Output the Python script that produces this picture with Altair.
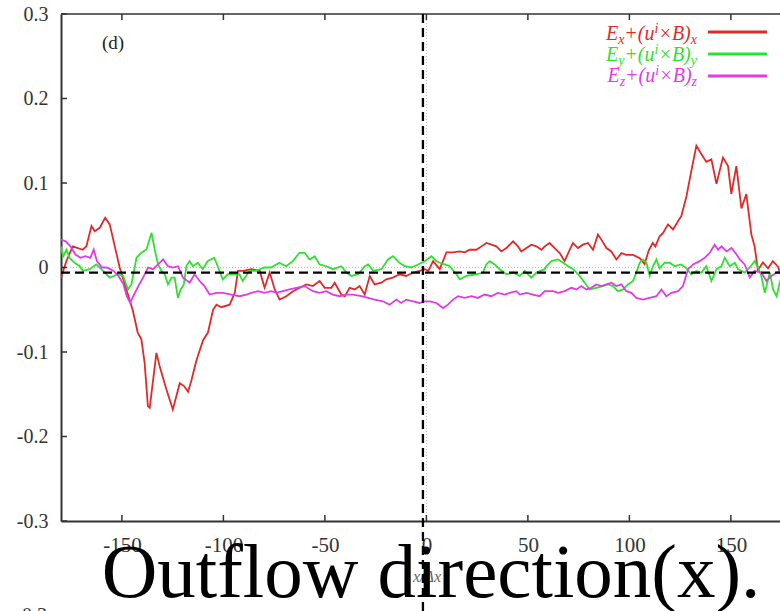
import altair as alt
import pandas as pd

# ---------------- data ----------------
series_names = ["Ex", "Ey", "Ez"]
series_colors = ["#e02a2a", "#30e030", "#de3ce6"]

red_x = [-180, -177.3, -174.2, -169.3, -167.5, -165, -163.4, -160.9, -158.2, -156,
         -153.5, -151.1, -147.8, -144.7, -142.2, -140.4, -138.8, -137.2, -136.3, -133,
         -131.4, -128.1, -124.9, -121.5, -119.5, -117.4, -115.8, -113.3, -110, -107.6,
         -105.1, -103.4, -101, -96.9, -94.4, -92.8, -90.3, -86.2, -82.1, -79.7,
         -77.2, -74.7, -72.3, -69, -65.7, -62.4, -59.1, -55.9, -52.6, -50.1,
         -46.8, -45.2, -41.9, -40.2, -37.8, -35.3, -32.9, -30.4, -27.9, -25.5,
         -22.2, -19.7, -16.5, -13.2, -9.9, -6.6, -3.3, -0.8, 1.0, 3.3,
         6.6, 9.9, 13.1, 16.4, 18.9, 21.3, 24.6, 27.1, 29.6, 32,
         34.5, 36.9, 39.4, 42.7, 45.1, 46.8, 49.3, 51.7, 54.2, 56.7,
         58.3, 60.7, 63.2, 65.7, 68.1, 70.6, 72.2, 74.7, 77.1, 79.6,
         82.1, 84.5, 86.2, 88.7, 91.1, 93.6, 96.1, 98.5, 101.8, 105.1,
         107.5, 109.5, 111.5, 112.8, 114.9, 116.6, 119, 121.5, 123.5, 125.6,
         128.1, 130.5, 133, 135.5, 137.9, 140.4, 142.9, 146.1, 148.6, 150.2,
         152.7, 155.2, 157.6, 160.1, 161.7, 163.3, 165.8, 168.3, 170.7, 173.2,
         174.5]
red_y = [-0.012, 0.008, 0.025, 0.021, 0.025, 0.049, 0.043, 0.047, 0.059, 0.051,
         0.025, 0.0, -0.026, -0.050, -0.077, -0.085, -0.113, -0.164, -0.166, -0.101,
         -0.117, -0.144, -0.168, -0.137, -0.140, -0.147, -0.134, -0.110, -0.086, -0.077,
         -0.050, -0.044, -0.047, -0.044, -0.030, -0.004, -0.004, -0.002, -0.004, -0.024,
         -0.006, -0.026, -0.038, -0.034, -0.028, -0.024, -0.020, -0.022, -0.016, -0.024,
         -0.024, -0.018, -0.032, -0.034, -0.024, -0.026, -0.022, -0.032, -0.010, -0.020,
         -0.018, -0.014, -0.012, -0.008, -0.010, -0.006, -0.004, -0.002, -0.004, 0.0075,
         -0.002, 0.018, 0.018, 0.019, 0.018, 0.021, 0.021, 0.025, 0.029, 0.027,
         0.025, 0.019, 0.023, 0.031, 0.025, 0.019, 0.023, 0.027, 0.025, 0.021,
         0.025, 0.029, 0.023, 0.017, 0.0075, 0.021, 0.029, 0.023, 0.027, 0.029,
         0.021, 0.039, 0.033, 0.023, 0.019, 0.0095, 0.017, 0.015, 0.015, 0.011,
         0.004, 0.020, 0.029, 0.025, 0.037, 0.041, 0.051, 0.045, 0.053, 0.061,
         0.084, 0.114, 0.144, 0.134, 0.125, 0.128, 0.099, 0.130, 0.120, 0.087,
         0.120, 0.070, 0.087, 0.039, 0.025, -0.003, 0.006, -0.001, 0.0075, 0.001,
         -0.008]

green_x = [-180, -179, -177.3, -175.7, -173.3, -170.8, -169.2, -165.9, -162.6, -159.3,
           -156, -151.9, -149.4, -147, -145.3, -142.8, -140.4, -137.9, -135.4, -133.8,
           -132.2, -130.5, -128.9, -127.3, -125.6, -124, -122.4, -121, -119.5, -118.2,
           -116.6, -115, -112.6, -110.2, -107.8, -104.5, -102.8, -100.3, -97.8, -95.4,
           -92.1, -90.5, -87.2, -83.9, -79.8, -76.5, -72.4, -69.1, -65.8, -62.5,
           -59.9, -57.5, -55, -52.6, -49.3, -46, -41.9, -39.4, -36.9, -33.6,
           -30.3, -28.7, -26.2, -22.1, -18.9, -16.5, -13.2, -10.7, -7.4, -4.1,
           -0.8, 2.5, 4.9, 6.6, 9, 11.5, 14.8, 16.4, 19.7, 24.6,
           27.9, 29.5, 31.2, 33.6, 36.1, 39.4, 42.7, 46, 48.4, 51.7,
           54.2, 58.3, 59.1, 61.6, 64.9, 67.4, 69.8, 72.3, 75.5, 78,
           80.4, 83.7, 87, 89.5, 91.9, 94.4, 96.9, 99.3, 101.8, 103.4,
           105.1, 106.7, 108.4, 110, 111.6, 113.3, 114.9, 117.4, 119.9, 122.3,
           125.6, 128.1, 130.5, 133, 135.5, 137.9, 140.4, 142.9, 145.3, 147,
           149.4, 151.9, 153.5, 156.8, 159.3, 161.7, 163.4, 165, 166.7, 169.2,
           170.8, 172.5, 174.5]
green_y = [0.025, 0.013, 0.021, 0.011, 0.0056, 0.0015, -0.004, -0.002, 0.0036, -0.004,
           -0.012, -0.008, -0.010, -0.026, -0.020, 0.0115, 0.0174, 0.0213, 0.041, 0.021,
           0.0036, -0.004, -0.008, -0.020, -0.012, -0.012, -0.036, -0.026, -0.020, 0.002,
           0.0075, 0.0015, 0.0056, -0.002, 0.0075, 0.0115, 0.0015, -0.014, -0.008, -0.008,
           -0.008, -0.016, -0.004, -0.004, 0.0, 0.0, 0.0056, 0.0015, 0.0075, 0.0174,
           0.0174, 0.0095, 0.0134, 0.0036, 0.0015, -0.002, 0.0015, -0.006, -0.010, -0.008,
           0.0015, 0.0036, -0.004, -0.002, 0.0095, 0.0134, 0.0056, 0.0015, 0.0, 0.0036,
           0.0075, 0.0134, 0.0075, 0.0056, 0.0036, 0.0015, -0.008, -0.014, -0.010, -0.008,
           -0.006, 0.0036, 0.0075, 0.0036, -0.002, -0.008, -0.006, -0.010, -0.004, -0.012,
           -0.006, -0.002, 0.0015, 0.0075, 0.0095, 0.0056, 0.0015, -0.002, -0.010, -0.018,
           -0.026, -0.024, -0.022, -0.020, -0.022, -0.028, -0.026, -0.020, -0.016, -0.006,
           0.0056, 0.0095, 0.0056, -0.010, 0.0015, 0.0095, -0.001, 0.0056, 0.0056, 0.0015,
           0.0036, -0.001, -0.008, -0.004, -0.006, 0.0015, -0.016, -0.002, 0.0015, 0.0115,
           0.0015, 0.0056, -0.002, -0.006, 0.0, 0.0075, 0.0, -0.010, -0.030, -0.006,
           -0.026, -0.034, -0.014]

mag_x = [-180, -177.7, -175.3, -172.9, -170.4, -168, -165.5, -163.9, -162.3, -159.8,
         -157.4, -154.1, -151.7, -149.2, -147.6, -145.9, -144.4, -141.9, -139.6, -137.1,
         -134.7, -132.2, -129.7, -127.3, -124.8, -122.4, -119.9, -116.6, -114.2, -111.7,
         -109.3, -106.8, -103.5, -100.2, -96.1, -92, -88.7, -86.2, -82.9, -79.7,
         -76.4, -73.9, -70.7, -67.4, -64.1, -60, -55.9, -52.6, -49.4, -46.1,
         -42.7, -39.4, -36.2, -32, -28.7, -25.5, -21.4, -18.1, -14.8, -12.4,
         -9.9, -6.6, -3.3, -0.8, 1.6, 4.9, 8.2, 10.6, 13.1, 15.6,
         18.9, 22.2, 25.4, 28.7, 32, 35.2, 38.6, 41, 44.3, 46,
         49.3, 52.5, 55.8, 58.3, 62.4, 64.9, 68.1, 71.4, 73.9, 76.3,
         78.8, 81.2, 83.7, 86.2, 88.7, 91.1, 93.6, 96.1, 98.5, 101,
         103.4, 106.7, 110, 113.3, 115.8, 118.2, 120.7, 124, 126.4, 128.9,
         131.4, 134.6, 137.1, 139.6, 142, 143.7, 145.4, 147.8, 150.3, 152.8,
         154.4, 156.8, 159.3, 161.7, 165, 167.5, 170, 172.5, 174.5]
mag_y = [0.033, 0.031, 0.025, 0.0154, 0.0115, 0.0134, 0.0115, 0.0213, 0.0075, 0.0,
         0.0, -0.004, -0.010, -0.020, -0.034, -0.042, -0.034, -0.022, -0.012, 0.0,
         -0.002, 0.0036, 0.0095, 0.0015, 0.0, 0.0015, -0.012, -0.018, -0.008, -0.016,
         -0.022, -0.032, -0.030, -0.030, -0.032, -0.034, -0.032, -0.030, -0.028, -0.030,
         -0.028, -0.030, -0.028, -0.026, -0.024, -0.022, -0.028, -0.030, -0.028, -0.032,
         -0.034, -0.032, -0.032, -0.034, -0.036, -0.038, -0.040, -0.044, -0.038, -0.042,
         -0.038, -0.040, -0.042, -0.040, -0.040, -0.042, -0.048, -0.044, -0.038, -0.034,
         -0.036, -0.034, -0.036, -0.032, -0.034, -0.030, -0.032, -0.030, -0.028, -0.032,
         -0.030, -0.032, -0.034, -0.028, -0.028, -0.030, -0.028, -0.024, -0.026, -0.022,
         -0.026, -0.024, -0.020, -0.022, -0.020, -0.018, -0.022, -0.020, -0.028, -0.030,
         -0.036, -0.038, -0.036, -0.034, -0.026, -0.034, -0.030, -0.028, -0.022, -0.002,
         0.0036, 0.0075, 0.0115, 0.0174, 0.027, 0.021, 0.025, 0.019, 0.023, 0.0154,
         0.0095, 0.0036, -0.012, -0.004, -0.006, -0.016, -0.010, -0.006, -0.004]

x_ticks = [-150, -100, -50, 0, 50, 100, 150]
y_ticks = [-0.3, -0.2, -0.1, 0, 0.1, 0.2, 0.3]
x_domain = [-180, 174.2]
y_domain = [-0.3, 0.3]
zero_line = [0]
dashed_h = [-0.006]
dashed_v = [-1.7]

legend_letters = ["x", "y", "z"]
title_text = "Outflow direction(x)."
axis_title_text = "x/Δx"
panel_label = "(d)"
next_panel_label = "0.3"

# ---------------- build ----------------
frames = []
for name, xs, ys in zip(series_names, [red_x, green_x, mag_x], [red_y, green_y, mag_y]):
    assert len(xs) == len(ys), (name, len(xs), len(ys))
    frames.append(pd.DataFrame({"x": xs, "y": ys, "series": name}))
df = pd.concat(frames, ignore_index=True)
df["order"] = range(len(df))

W, H = 719, 507
FONT = "Liberation Serif"
AX = "#333333"

xsc = alt.Scale(domain=x_domain, nice=False, zero=False)
ysc = alt.Scale(domain=y_domain, nice=False, zero=False)

x_axis = alt.Axis(values=x_ticks, labelFont=FONT, labelFontSize=21, labelColor=AX,
                  ticks=False, grid=False, domainColor=AX, domainWidth=2,
                  labelPadding=13, title=None, labelExpr="'' + datum.value")
y_axis = alt.Axis(values=y_ticks, labelFont=FONT, labelFontSize=20, labelColor=AX,
                  ticks=False, grid=False, domainColor=AX, domainWidth=2,
                  labelPadding=13, title=None, labelExpr="'' + datum.value")

color_scale = alt.Scale(domain=series_names, range=series_colors)

lines = alt.Chart(df).mark_line(strokeWidth=1.8, clip=True).encode(
    x=alt.X("x:Q", scale=xsc, axis=x_axis),
    y=alt.Y("y:Q", scale=ysc, axis=y_axis),
    color=alt.Color("series:N", scale=color_scale, legend=None),
    order=alt.Order("order:Q"),
)

zero_h = alt.Chart(pd.DataFrame({"y": zero_line})).mark_rule(
    color="#bbbbbb", strokeWidth=1, strokeDash=[1, 2]).encode(
    y=alt.Y("y:Q", scale=ysc), x=alt.value(0), x2=alt.value(W))
zero_v = alt.Chart(pd.DataFrame({"x": zero_line})).mark_rule(
    color="#bbbbbb", strokeWidth=1, strokeDash=[1, 2]).encode(
    x=alt.X("x:Q", scale=xsc), y=alt.value(0), y2=alt.value(H))

dash_h = alt.Chart(pd.DataFrame({"y": dashed_h})).mark_rule(
    color="black", strokeWidth=2.3, strokeDash=[9, 5]).encode(
    y=alt.Y("y:Q", scale=ysc), x=alt.value(0), x2=alt.value(W))
dash_v = alt.Chart(pd.DataFrame({"x": dashed_v})).mark_rule(
    color="black", strokeWidth=2.3, strokeDash=[9, 5]).encode(
    x=alt.X("x:Q", scale=xsc), y=alt.value(0), y2=alt.value(H + 90))

xt = pd.DataFrame({"x": x_ticks})
yt = pd.DataFrame({"y": y_ticks})
tick_bottom = alt.Chart(xt).mark_rule(color=AX, strokeWidth=1.5).encode(
    x=alt.X("x:Q", scale=xsc), y=alt.value(H), y2=alt.value(H - 6))
tick_top = alt.Chart(xt).mark_rule(color=AX, strokeWidth=1.5).encode(
    x=alt.X("x:Q", scale=xsc), y=alt.value(0), y2=alt.value(6))
tick_left = alt.Chart(yt).mark_rule(color=AX, strokeWidth=1.5).encode(
    y=alt.Y("y:Q", scale=ysc), x=alt.value(0), x2=alt.value(6))
top_border = alt.Chart(pd.DataFrame({"a": [0]})).mark_rule(color=AX, strokeWidth=1.5).encode(
    y=alt.value(0), x=alt.value(0), x2=alt.value(W))


def text(txt, x, y, **kw):
    return alt.Chart(pd.DataFrame({"t": [txt]})).mark_text(**kw).encode(
        x=alt.value(x), y=alt.value(y), text="t:N")


layers = [zero_h, zero_v, lines, dash_h, tick_bottom, tick_top, tick_left, top_border]

# legend (custom: label then line sample)
ITW = {"E": 611, "x": 444, "y": 444, "z": 389, "+": 675, "(": 333, "u": 500,
       "i": 278, "×": 675, "B": 611, ")": 333}
MAIN, SUB = 20, 14
line_rows = [18, 40, 62]
base_rows = [26, 47, 68]
right_edge = 636
for letter, color, ly, by in zip(legend_letters, series_colors, line_rows, base_rows):
    segs = [("E", MAIN, 0), (letter, SUB, 4), ("+(u", MAIN, 0), ("i", SUB, -7),
            ("×B)", MAIN, 0), (letter, SUB, 4)]
    widths = [sum(ITW[c] for c in s) * sz / 1000.0 for s, sz, _ in segs]
    cx = right_edge - sum(widths)
    for (s, sz, dy), w in zip(segs, widths):
        layers.append(text(s, cx, by + dy, font=FONT, fontSize=sz, fontStyle="italic",
                           color=color, align="left", baseline="alphabetic"))
        cx += w
    layers.append(alt.Chart(pd.DataFrame({"a": [0]})).mark_rule(color=color, strokeWidth=3).encode(
        x=alt.value(647), x2=alt.value(706), y=alt.value(ly)))

layers.append(text(panel_label, 52, 29, font=FONT, fontSize=19, color="#222222",
                   align="center", baseline="middle"))
layers.append(text(axis_title_text, 366, 568, font=FONT, fontSize=16, fontStyle="italic",
                   color="#666666", align="center", baseline="alphabetic"))
layers.append(text(next_panel_label, -14, 592, font=FONT, fontSize=20, color=AX,
                   align="right", baseline="top"))
layers.append(text(title_text, 370, 583, font=FONT, fontSize=77, color="black",
                   align="center", baseline="alphabetic"))
layers.append(dash_v)

chart = alt.layer(*layers).properties(
    width=W, height=H,
    autosize=alt.AutoSizeParams(type="none"),
    padding={"left": 61, "top": 14, "right": 0, "bottom": 90},
    background="white",
).configure_view(stroke=None)

chart.save("out.html", embed_options={"renderer": "svg", "actions": False})
